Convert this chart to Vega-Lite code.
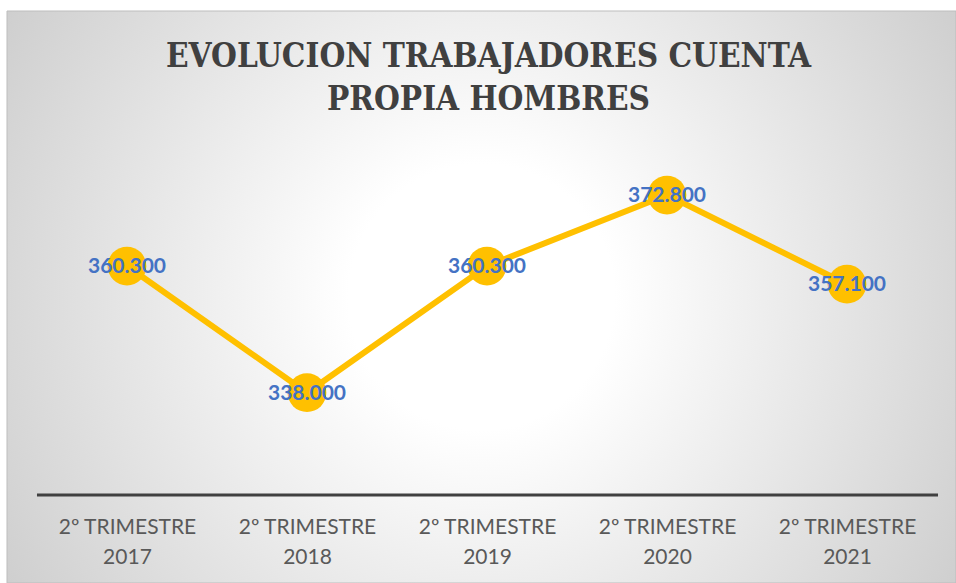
{
  "$schema": "https://vega.github.io/schema/vega-lite/v6.json",
  "width": 949,
  "height": 572,
  "autosize": {"type": "none"},
  "padding": {"left": 7, "top": 11, "right": 0, "bottom": 0},
  "background": "#ffffff",
  "config": {"view": {"stroke": null}},
  "title": {
    "text": ["EVOLUCION TRABAJADORES CUENTA", "PROPIA HOMBRES"],
    "font": "DejaVu Serif Condensed",
    "fontSize": 33,
    "fontWeight": "bold",
    "color": "#404040",
    "lineHeight": 43,
    "anchor": "middle",
    "baseline": "middle",
    "offset": -122,
    "dx": 7
  },
  "data": {
    "values": [
      {"periodo": "2º TRIMESTRE 2017", "valor": 360.3},
      {"periodo": "2º TRIMESTRE 2018", "valor": 338.0},
      {"periodo": "2º TRIMESTRE 2019", "valor": 360.3},
      {"periodo": "2º TRIMESTRE 2020", "valor": 372.8},
      {"periodo": "2º TRIMESTRE 2021", "valor": 357.1}
    ]
  },
  "encoding": {
    "x": {
      "field": "periodo",
      "type": "ordinal",
      "sort": null,
      "scale": {
        "type": "point",
        "domain": ["2º TRIMESTRE 2017", "2º TRIMESTRE 2018", "2º TRIMESTRE 2019", "2º TRIMESTRE 2020", "2º TRIMESTRE 2021"],
        "padding": 0.636,
        "align": 0.524
      },
      "axis": {
        "orient": "bottom",
        "offset": -88,
        "zindex": 2,
        "title": null,
        "domain": false,
        "ticks": false,
        "grid": false,
        "labelAngle": 0,
        "labelFont": "Lato",
        "labelFontSize": 21,
        "labelColor": "#595959",
        "labelLineHeight": 30,
        "labelPadding": 21,
        "labelBaseline": "top",
        "labelExpr": "[slice(datum.label, 0, 12), slice(datum.label, 13)]"
      }
    },
    "y": {
      "field": "valor",
      "type": "quantitative",
      "scale": {"domain": [304.5, 405.2], "nice": false, "zero": false},
      "axis": null
    }
  },
  "layer": [
    {
      "data": {"values": [{}]},
      "mark": {
        "type": "rect",
        "stroke": "#bdbdbd",
        "strokeWidth": 1,
        "fill": {
          "gradient": "radial",
          "x1": 0.5, "y1": 0.5, "r1": 0,
          "x2": 0.5, "y2": 0.5, "r2": 0.7,
          "stops": [
            {"offset": 0, "color": "#ffffff"},
            {"offset": 0.2, "color": "#ffffff"},
            {"offset": 1, "color": "#c2c2c2"}
          ]
        }
      },
      "encoding": {"x": null, "y": null}
    },
    {
      "data": {"values": [{"base": 320, "desde": "2º TRIMESTRE 2017", "hasta": "2º TRIMESTRE 2021"}]},
      "mark": {"type": "rule", "color": "#404040", "strokeWidth": 3, "xOffset": -90, "x2Offset": 91},
      "encoding": {
        "x": {"field": "desde", "type": "ordinal"},
        "x2": {"field": "hasta"},
        "y": {"field": "base", "type": "quantitative"}
      }
    },
    {
      "mark": {"type": "line", "color": "#FFC000", "strokeWidth": 6}
    },
    {
      "mark": {"type": "point", "shape": "circle", "filled": true, "color": "#FFC000", "opacity": 1, "size": 1500}
    },
    {
      "mark": {"type": "text", "font": "Lato", "fontSize": 21, "fontWeight": "bold", "color": "#4472C4", "align": "center", "baseline": "middle", "dy": 1},
      "encoding": {"text": {"field": "valor", "type": "quantitative", "format": ".3f"}}
    }
  ]
}
